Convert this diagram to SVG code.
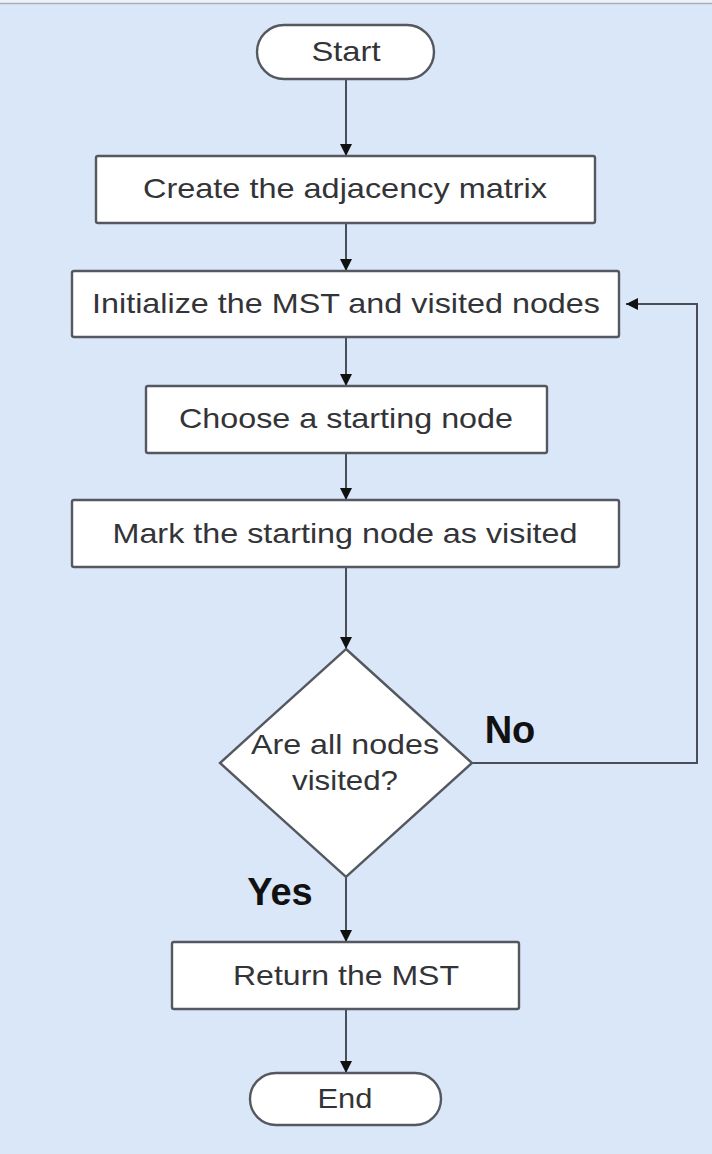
<svg xmlns="http://www.w3.org/2000/svg" width="712" height="1154" viewBox="0 0 712 1154">
<defs>
<style>
.bg{fill:#d9e7f9}
.shape{fill:#ffffff;stroke:#55595f;stroke-width:2.4}
.box{rx:2px;ry:2px}
.t{font-family:"Liberation Sans",Arial,sans-serif;font-size:28px;fill:#333438;text-anchor:middle}
.lbl{font-family:"Liberation Sans",Arial,sans-serif;font-size:38px;font-weight:bold;fill:#111111;text-anchor:middle}
.edge{fill:none;stroke:#4a4e56;stroke-width:2}
</style>
<marker id="arr" viewBox="0 0 10 10" refX="10" refY="5" markerWidth="12" markerHeight="12" markerUnits="userSpaceOnUse" orient="auto">
<path d="M0,0 L10,5 L0,10 z" fill="#111111"/>
</marker>
</defs>
<rect x="0" y="0" width="712" height="1154" class="bg"/>
<rect x="0" y="0" width="712" height="3" fill="#eef2f7"/>
<line x1="0" y1="3.5" x2="712" y2="3.5" stroke="#a9b0ba" stroke-width="1.5"/>

<g id="connectors">
<line class="edge" x1="346" y1="79" x2="346" y2="156" marker-end="url(#arr)"/>
<line class="edge" x1="346" y1="223" x2="346" y2="271" marker-end="url(#arr)"/>
<line class="edge" x1="346" y1="337" x2="346" y2="386" marker-end="url(#arr)"/>
<line class="edge" x1="346" y1="453" x2="346" y2="500" marker-end="url(#arr)"/>
<line class="edge" x1="346" y1="567" x2="346" y2="649" marker-end="url(#arr)"/>
<line class="edge" x1="346" y1="877" x2="346" y2="942" marker-end="url(#arr)"/>
<line class="edge" x1="346" y1="1009" x2="346" y2="1073" marker-end="url(#arr)"/>
<path class="edge" d="M472,763 L697,763 L697,304 L626,304" marker-end="url(#arr)"/>
<text class="lbl" x="510" y="743">No</text>
<text class="lbl" x="280" y="905">Yes</text>
</g>

<g id="start">
<rect class="shape" x="257" y="25" width="177" height="54" rx="27" ry="27"/>
<text class="t" x="346" y="61" textLength="69" lengthAdjust="spacingAndGlyphs">Start</text>
</g>
<g id="create">
<rect class="shape box" x="96" y="156" width="499" height="67"/>
<text class="t" x="345" y="198" textLength="404" lengthAdjust="spacingAndGlyphs">Create the adjacency matrix</text>
</g>
<g id="init">
<rect class="shape box" x="72" y="271" width="547" height="66"/>
<text class="t" x="346" y="313" textLength="508" lengthAdjust="spacingAndGlyphs">Initialize the MST and visited nodes</text>
</g>
<g id="choose">
<rect class="shape box" x="146" y="386" width="401" height="67"/>
<text class="t" x="346" y="428" textLength="334" lengthAdjust="spacingAndGlyphs">Choose a starting node</text>
</g>
<g id="mark">
<rect class="shape box" x="72" y="500" width="547" height="67"/>
<text class="t" x="345" y="543" textLength="465" lengthAdjust="spacingAndGlyphs">Mark the starting node as visited</text>
</g>
<g id="decision">
<polygon class="shape" points="346,649 472,763 346,877 220,763"/>
<text class="t" x="345" y="754" textLength="188" lengthAdjust="spacingAndGlyphs">Are all nodes</text>
<text class="t" x="345" y="790" textLength="106" lengthAdjust="spacingAndGlyphs">visited?</text>
</g>
<g id="return">
<rect class="shape box" x="172" y="942" width="347" height="67"/>
<text class="t" x="346" y="985" textLength="226" lengthAdjust="spacingAndGlyphs">Return the MST</text>
</g>
<g id="end">
<rect class="shape" x="250" y="1073" width="191" height="52" rx="26" ry="26"/>
<text class="t" x="345" y="1108" textLength="55" lengthAdjust="spacingAndGlyphs">End</text>
</g>
</svg>
